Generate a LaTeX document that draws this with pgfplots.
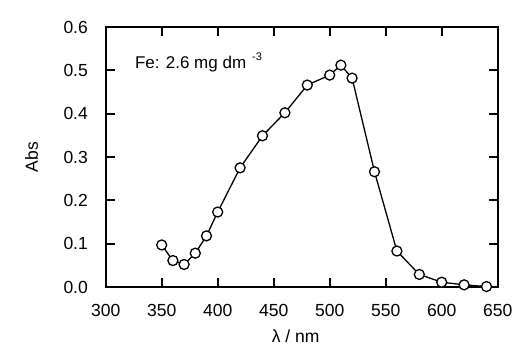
\documentclass[border=0pt]{standalone}
\usepackage{pgfplots}
\pgfplotsset{compat=1.18}
\usepackage{fontspec}
\setmainfont{Liberation Sans}
\begin{document}
\fontsize{17}{20}\selectfont
\begin{tikzpicture}
\begin{axis}[
  scale only axis,
  width=392pt, height=260pt,
  xmin=300, xmax=650, ymin=0, ymax=0.6,
  xtick={300,350,...,650},
  ytick={0,0.1,...,0.6},
  tick align=inside,
  ticks=major,
  major tick length=9pt,
  axis line style={line width=2pt},
  every tick/.style={line width=2pt, black},
  /pgf/number format/assume math mode=true,
  yticklabel style={/pgf/number format/.cd, fixed, fixed zerofill, precision=1, /tikz/.cd, xshift=-12pt},
  xticklabel style={/pgf/number format/.cd, fixed, 1000 sep={}, /tikz/.cd, yshift=-11pt},
  tick label style={font=\fontsize{17.5}{20}\selectfont},
  ylabel={Abs},
  xlabel={λ / nm},
  label style={font=\fontsize{17.5}{20}\selectfont},
  xlabel style={xshift=-6pt, yshift=-2pt},
  ylabel style={yshift=14pt},
  clip=false,
]
\addplot[black, line width=1.3pt, mark=*, mark size=5pt,
  mark options={fill=white, draw=black, line width=1.3pt}] coordinates {
(350,0.097) (360,0.061) (370,0.052) (380,0.078) (390,0.118)
(400,0.173) (420,0.275) (440,0.349) (460,0.402) (480,0.466)
(500,0.489) (510,0.512) (520,0.482) (540,0.266) (560,0.083)
(580,0.029) (600,0.011) (620,0.005) (640,0.001)
};
\node[anchor=base west, inner sep=0pt] at (axis cs:326,0.505)
  {Fe: 2.6 mg dm\hspace{6pt}\raisebox{8pt}{\fontsize{11}{12}\selectfont -3}};
\end{axis}
\path (-105.7pt,-65pt) rectangle (424.3pt,287pt);
\end{tikzpicture}
\end{document}
